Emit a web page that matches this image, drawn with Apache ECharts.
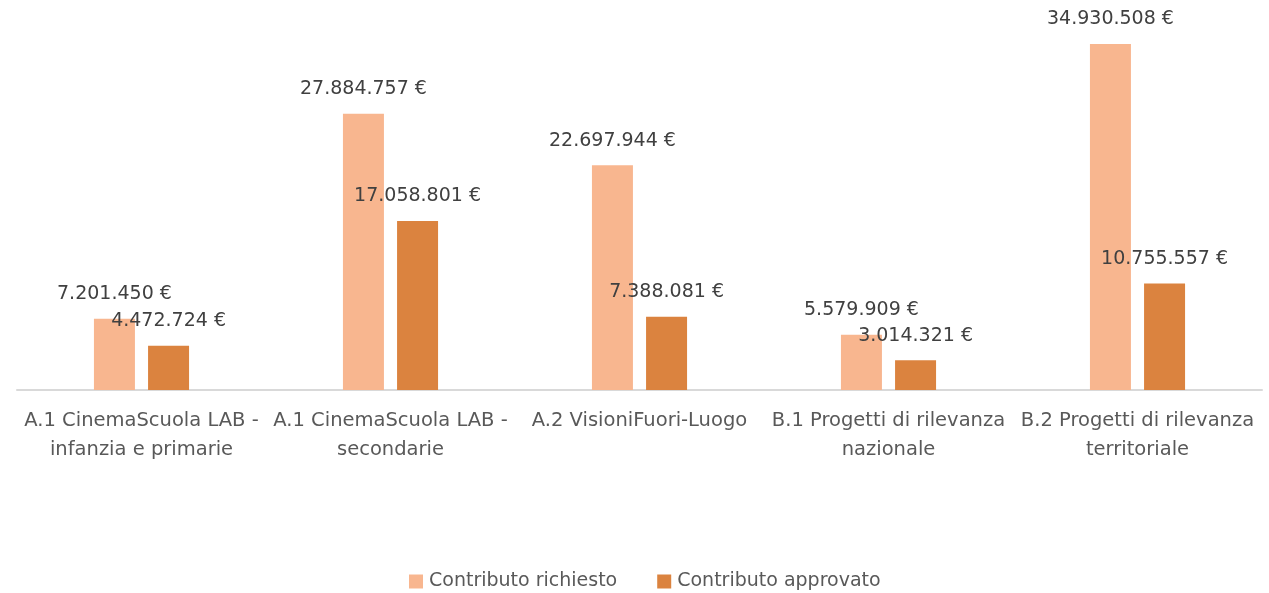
<!DOCTYPE html>
<html>
<head>
<meta charset="utf-8">
<script src="https://cdn.jsdelivr.net/npm/echarts@6/dist/echarts.min.js"></script>
<style>
html,body{margin:0;padding:0;background:#fff;}
#chart{width:1269px;height:593px;}
</style>
</head>
<body>
<div id="chart"></div>
<script>
// Categories (line breaks as the axis labels wrap)
const categories = [
  'A.1 CinemaScuola LAB -\ninfanzia e primarie',
  'A.1 CinemaScuola LAB -\nsecondarie',
  'A.2 VisioniFuori-Luogo',
  'B.1 Progetti di rilevanza\nnazionale',
  'B.2 Progetti di rilevanza\nterritoriale'
];
const seriesNames = ['Contributo richiesto', 'Contributo approvato'];
const richiesto = [7201450, 27884757, 22697944, 5579909, 34930508];
const approvato = [4472724, 17058801, 7388081, 3014321, 10755557];

const fontFamily = '"DejaVu Sans", "Open Sans", sans-serif';

function euro(v) {
  return String(Math.round(v)).replace(/\B(?=(\d{3})+(?!\d))/g, '.') + ' €';
}

const chart = echarts.init(document.getElementById('chart'), null, {renderer: 'canvas'});

const labelCfg = {
  show: true,
  position: 'top',
  distance: 15,
  color: '#404040',
  fontSize: 19,
  fontFamily: fontFamily,
  formatter: p => euro(p.value)
};

chart.setOption({
  animation: false,
  backgroundColor: '#ffffff',
  grid: {left: 17, right: 7, top: 43.3, bottom: 203, containLabel: false},
  legend: {
    bottom: -3,
    left: 404,
    itemWidth: 14,
    itemHeight: 14,
    itemGap: 40,
    icon: 'rect',
    textStyle: {color: '#595959', fontSize: 19, fontFamily: fontFamily, padding: [0, 0, 0, 1]},
    data: seriesNames
  },
  xAxis: {
    type: 'category',
    data: categories,
    axisLine: {lineStyle: {color: '#D9D9D9', width: 2}},
    axisTick: {show: false},
    axisLabel: {
      color: '#595959',
      fontSize: 19.5,
      fontFamily: fontFamily,
      lineHeight: 29,
      margin: 16,
      interval: 0
    }
  },
  yAxis: {
    type: 'value',
    min: 0,
    max: 35000000,
    show: false,
    splitLine: {show: false}
  },
  series: [
    {
      name: seriesNames[0],
      type: 'bar',
      data: richiesto,
      barWidth: 41,
      barGap: '32%',
      itemStyle: {color: '#F8B68F'},
      label: labelCfg
    },
    {
      name: seriesNames[1],
      type: 'bar',
      data: approvato,
      barWidth: 41,
      itemStyle: {color: '#DB833F'},
      label: labelCfg
    }
  ]
});
</script>
</body>
</html>
